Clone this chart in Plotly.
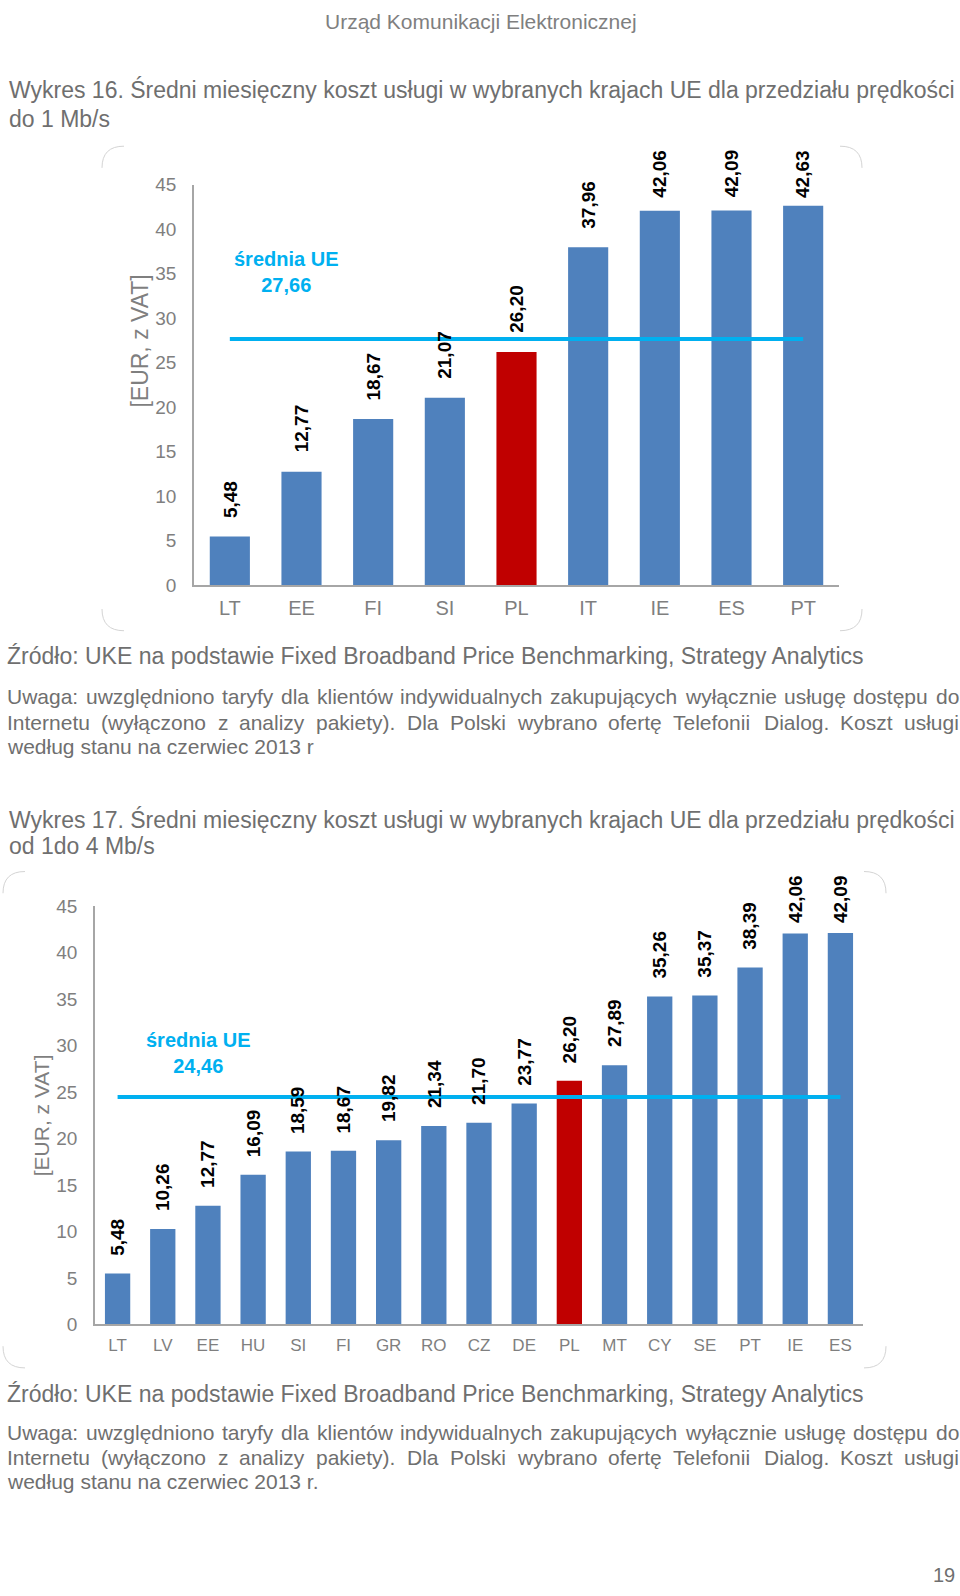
import plotly.graph_objects as go

W, H = 960, 1596

# ---------------- data ----------------
countries16 = ["LT", "EE", "FI", "SI", "PL", "IT", "IE", "ES", "PT"]
values16 = [5.48, 12.77, 18.67, 21.07, 26.20, 37.96, 42.06, 42.09, 42.63]
mean16 = 27.66

countries17 = ["LT", "LV", "EE", "HU", "SI", "FI", "GR", "RO", "CZ", "DE",
               "PL", "MT", "CY", "SE", "PT", "IE", "ES"]
values17 = [5.48, 10.26, 12.77, 16.09, 18.59, 18.67, 19.82, 21.34, 21.70,
            23.77, 26.20, 27.89, 35.26, 35.37, 38.39, 42.06, 42.09]
mean17 = 24.46

highlight = "PL"
y_ticks = [0, 5, 10, 15, 20, 25, 30, 35, 40, 45]
y_title = "[EUR, z VAT]"
mean_label = "średnia UE"

header = "Urząd Komunikacji Elektronicznej"
title16 = ["Wykres 16. Średni miesięczny koszt usługi w wybranych krajach UE dla przedziału prędkości",
           "do 1 Mb/s"]
title17 = ["Wykres 17. Średni miesięczny koszt usługi w wybranych krajach UE dla przedziału prędkości",
           "od 1do 4 Mb/s"]
source = "Źródło: UKE na podstawie Fixed Broadband Price Benchmarking, Strategy Analytics"
note16 = ["Uwaga: uwzględniono taryfy dla klientów indywidualnych zakupujących wyłącznie usługę dostępu do",
          "Internetu (wyłączono z analizy pakiety). Dla Polski wybrano ofertę Telefonii Dialog. Koszt usługi",
          "według stanu na czerwiec 2013 r"]
note17 = note16[:2] + ["według stanu na czerwiec 2013 r."]
page_no = "19"

# ---------------- styles ----------------
FONT = "Liberation Sans, Arial, sans-serif"
BLUE = "#4F81BD"
RED = "#C00000"
CYAN = "#00B0F0"
AXIS = "#a6a6a6"
TICK = "#7f7f7f"
TEXT = "#6f6f6f"


def fmt(v):
    return f"{v:.2f}".replace(".", ",")


def px(x, y):
    return x / W, 1 - y / H


def text_ann(text, x, y, size, color=TEXT, xanchor="left", bold=False, angle=0):
    xx, yy = px(x, y)
    if bold:
        text = "<b>" + text + "</b>"
    return dict(xref="paper", yref="paper", x=xx, y=yy, xanchor=xanchor, yanchor="middle",
                text=text, showarrow=False, textangle=angle,
                font=dict(family=FONT, size=size, color=color))


# Arial advance widths (1/1000 em) to justify text lines
AW = {' ': 278, 'a': 556, 'b': 556, 'c': 500, 'd': 556, 'e': 556, 'f': 278, 'g': 556, 'h': 556,
      'i': 222, 'j': 222, 'k': 500, 'l': 222, 'm': 833, 'n': 556, 'o': 556, 'p': 556, 'q': 556,
      'r': 333, 's': 500, 't': 278, 'u': 556, 'v': 500, 'w': 722, 'x': 500, 'y': 500, 'z': 500,
      'ą': 556, 'ę': 556, 'ł': 222, 'ó': 556, 'ś': 500, 'ż': 500, 'ź': 500, 'ć': 500, 'ń': 556,
      'U': 722, 'I': 278, 'D': 722, 'P': 667, 'K': 667, 'T': 611, '(': 333, ')': 333,
      '.': 278, ',': 278, ':': 278}


def word_w(w, size):
    return sum(AW.get(c, 556) for c in w) * size / 1000.0


def justify(line, x0, x1, y, size):
    words = line.split()
    ws = [word_w(w, size) for w in words]
    gap = (x1 - x0 - sum(ws)) / (len(words) - 1)
    out = []
    x = x0
    for w, wd in zip(words, ws):
        out.append(text_ann(w, x, y, size))
        x += wd + gap
    return out


def corners(l, t, r, b, rad):
    shapes = []
    segs = [
        f"M {l},{t + rad} Q {l},{t} {l + rad},{t}",
        f"M {r - rad},{t} Q {r},{t} {r},{t + rad}",
        f"M {l},{b - rad} Q {l},{b} {l + rad},{b}",
        f"M {r - rad},{b} Q {r},{b} {r},{b - rad}",
    ]
    for s in segs:
        conv = []
        for p in s.split():
            if "," in p:
                a, c = p.split(",")
                xx, yy = px(float(a), float(c))
                conv.append(f"{xx:.5f},{yy:.5f}")
            else:
                conv.append(p)
        shapes.append(dict(type="path", xref="paper", yref="paper", path=" ".join(conv),
                           line=dict(color="#d4d4d4", width=1)))
    return shapes


fig = go.Figure()
annotations = []

charts = [
    dict(cats=countries16, vals=values16, mean=mean16, xa="x", ya="y",
         xdom=(194, 839), ydom=(177, 583), xtick=20, cap=43.3, gap=17,
         meanpos=(286, 266), ytitle=(140, 336, 23)),
    dict(cats=countries17, vals=values17, mean=mean17, xa="x2", ya="y2",
         xdom=(95, 863), ydom=(908, 1332), xtick=17, cap=43.0, gap=16,
         meanpos=(198, 1057), ytitle=(41, 1120, 21)),
]

layout_axes = {}
for i, ch in enumerate(charts):
    colors = [RED if c == highlight else BLUE for c in ch["cats"]]
    fig.add_trace(go.Bar(x=ch["cats"], y=ch["vals"], marker=dict(color=colors, line=dict(width=0)),
                         xaxis=ch["xa"], yaxis=ch["ya"], hoverinfo="skip"))
    fig.add_trace(go.Scatter(x=[ch["cats"][0], ch["cats"][-1]], y=[ch["mean"], ch["mean"]],
                             mode="lines", line=dict(color=CYAN, width=4),
                             xaxis=ch["xa"], yaxis=ch["ya"], hoverinfo="skip"))
    ppu = (ch["ydom"][1] - ch["ydom"][0]) / 45.0
    for c, v in zip(ch["cats"], ch["vals"]):
        annotations.append(dict(xref=ch["xa"], yref=ch["ya"], x=c,
                                y=min(v + ch["gap"] / ppu, ch["cap"]),
                                xanchor="center", yanchor="bottom", textangle=-90, showarrow=False,
                                text="<b>" + fmt(v) + "</b>",
                                font=dict(family=FONT, size=19, color="#000000")))
    mx, my = ch["meanpos"]
    annotations.append(text_ann(mean_label + "<br>" + fmt(ch["mean"]), mx, my, 20,
                                color=CYAN, xanchor="center", bold=True))
    tx, ty, ts = ch["ytitle"]
    annotations.append(text_ann(y_title, tx, ty, ts, color=TICK, xanchor="center", angle=-90))

    sfx = "" if i == 0 else "2"
    x0, x1 = ch["xdom"]
    y0, y1 = ch["ydom"]
    layout_axes["xaxis" + sfx] = dict(domain=[x0 / W, x1 / W], anchor="y" + sfx, type="category",
                                      showline=True, linecolor=AXIS, linewidth=1.5, ticks="",
                                      showgrid=False, zeroline=False, fixedrange=True,
                                      ticklabelstandoff=4,
                                      tickfont=dict(family=FONT, size=ch["xtick"], color=TICK))
    layout_axes["yaxis" + sfx] = dict(domain=[1 - y1 / H, 1 - y0 / H], anchor="x" + sfx,
                                      range=[0, 45], tickvals=y_ticks, showline=True,
                                      linecolor=AXIS, linewidth=1.5, ticks="", showgrid=False,
                                      zeroline=False, fixedrange=True, ticklabelstandoff=12,
                                      tickfont=dict(family=FONT, size=19, color=TICK))

# page text
NOTE = 21
annotations.append(text_ann(header, 481, 12, 21, color="#7f7f7f", xanchor="center"))
annotations.append(text_ann(title16[0], 7, 81, 23))
annotations.append(text_ann(title16[1], 7, 110, 23))
annotations.append(text_ann(source, 5, 655, 23))
annotations += justify(note16[0], 5, 957, 696, NOTE)
annotations += justify(note16[1], 5, 957, 722, NOTE)
annotations.append(text_ann(note16[2], 5, 746, NOTE))
annotations.append(text_ann(title17[0], 7, 820, 23))
annotations.append(text_ann(title17[1], 7, 847, 23))
annotations.append(text_ann(source, 5, 1402, 23))
annotations += justify(note17[0], 5, 957, 1441, NOTE)
annotations += justify(note17[1], 5, 957, 1467, NOTE)
annotations.append(text_ann(note17[2], 5, 1491, NOTE))
annotations.append(text_ann(page_no, 957, 1586, 20, xanchor="right"))

shapes = corners(102, 138, 862, 629, 22) + corners(3, 873, 886, 1376, 22)

fig.update_layout(width=W, height=H, margin=dict(l=0, r=0, t=0, b=0, pad=0),
                  paper_bgcolor="white", plot_bgcolor="white", showlegend=False,
                  bargap=0.44, annotations=annotations, shapes=shapes,
                  font=dict(family=FONT), **layout_axes)

# zero the page's default body margin before the figure is drawn (and again afterwards)
early_js = "data:text/javascript,document.body.style.margin%3D%270px%27%3B//.js"
fig.write_html("out.html", config={"displayModeBar": False},
               include_mathjax=early_js,
               post_script="document.body.style.margin='0';")
